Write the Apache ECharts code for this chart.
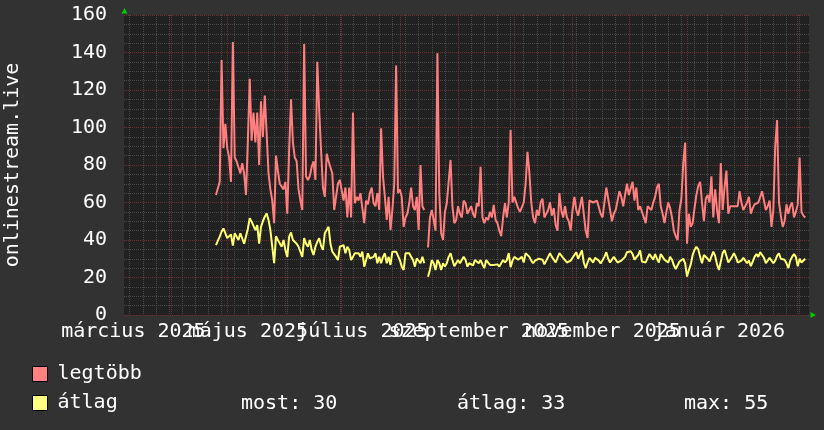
<!DOCTYPE html>
<html><head><meta charset="utf-8">
<script src="https://cdn.jsdelivr.net/npm/echarts@6/dist/echarts.min.js"></script>
<style>html,body{margin:0;padding:0;background:#323232}#c{width:824px;height:430px}</style>
</head><body><div id="c"></div>
<script>
// ---- data ----
const axisStart = '2025-03-07';
const axisEnd = '2026-03-07';
const dataStart = '2025-04-25';
const seriesNames = ['legtöbb', 'átlag'];
const yAxisTitle = 'onlinestream.live';
const xLabels = ['március 2025','május 2025','július 2025','szeptember 2025','november 2025','január 2026'];
const xLabelDates = ['2025-03-12','2025-05-12','2025-07-12','2025-09-12','2025-11-17','2026-01-18'];
const statLabels = ['most: 30', 'átlag: 33', 'max: 55'];

const maxValues = [
64,67.5,71,136,89,102,89,84,71,145.6,
84,82,81,75.5,81,75.5,64,93,126,93,
108,92,108,80,114,95,117,97,75.5,67,
61,49,85,77,70,70,67,71,54,88,
115,92,84,82,67,61,56,144.5,74,72,
74,79,82,72,135,109,88,68,63,86,
82,81,75.5,56,63,70,72,72,61,68,
52,68,52,108,59.6,63,61,65,66,49,
61,59,65,68,59.6,58,65,56,99.6,74,
63,50.7,63,45.3,56,70,133,65,67,63,
47,52,54,59.6,68,58,56,63,45.3,80,
58,56,null,36,52,56,50.7,45,139.6,65,
43.6,40,55,59.6,59.6,82.7,58,49,50.7,58,
54,52,61,59.6,54,56,58,54,52,59.6,
58,79,52,49,52,50.7,55,52,58.7,50.7,
49,45,42,52,59.6,52,60,
98.7,60,63,63,57,55,55,60,70,87,
76,60,52,49,56,53,60,62,52,51,
56,60,53,57,48,45,65,56,52,58,
52,50,45,56,63,56,53,58,63,54,
45,41,61,62,60,60,61,61,54,52,
60,68,62,56,50,54,56,61,66,63,
58,58,70,64,63,71,61,68,56,58,
59,52,49,58,59,56,60,63,68,70,
58,54,49,55,60,57,52,45,42,40,
56,62,81,92,38,54,47,49,57,64,
69,71,60,50,62,64,60,74,52,67,
56,49,81,56,68,77,54,58,58,58,
58,58,66,60,56,58,60,63,54,57,
59,59,60,63,66,67,56,58,61,47,
56,90,104,60,53,47,50,59,54,58,
60,52,55,59,84,55,53,52
];

const avgValues = [
37.3,36.4,41.8,44.4,46.2,45.3,41,40,43,37,
43.6,44.4,40,43.6,43.6,38,42,46,51.6,49.8,
50.7,45.3,48,38,47,50,52.4,54.2,50.7,45.3,
36.4,27.6,42,40,39,36.4,40,34.7,31,41.8,
44,40,40,38,36.4,35.6,31,41,38,36.4,
40,34.7,32,36.4,39,41,37,34.7,43.6,45.3,
47,38,33.8,32.9,31,29.3,36.4,37.3,37.3,32.9,
36.4,34.7,29.3,31,32.9,32,32.9,31,33.8,25.8,
29.3,32.9,30.2,29.3,31,32.9,27.6,31,27.6,31,
32.9,27.6,31,26.7,33.8,34.7,33.8,32.9,29.3,25.8,
24,32.9,33.8,32.9,31,29.3,25.8,30.2,29.3,27.6,
31,27.6,null,20.4,24,29.3,27.6,24,29.3,27.6,
24,27.6,25.8,27.6,31,32.9,29.3,26,25,29.3,
27.6,29.3,31,29.3,25.8,27.6,28.5,26.5,29.3,30.2,
27.6,29.3,27,25,29.3,28.5,26.7,27.6,26.7,25.8,
27,25.8,27.6,29.3,28,29.3,33,
25.5,29,31,32,29.5,30,31,28,33,32,
31,29,27.6,29,29.5,30,31,29.5,27,26,
31,33,31,30,28,27,33,32,30.5,29.3,
28,27.6,29,30.5,29.5,33.5,30,31,34.5,28,
25,28,30.5,30.5,28,30.5,30,29,27.5,27,
31,33.5,30,28,27.8,31,30,28,27.5,29,
30,31,33.5,34.5,34,32.5,29.5,30.5,32,34.5,
28.5,27.6,28,30.5,32.5,31,29.5,32.5,30,28,
32.5,31,29.5,28.5,28,31,29.5,26.5,24.5,26.5,
28.5,29.3,30,27.6,20.5,24,27,32,34.7,36.4,
35,31,27.6,32,31.5,30,28.5,27.6,33.8,31.5,
27,24,28.5,33,34.7,31.5,28,29.5,31,33,
31,28,28,29,30.5,30.5,27.6,29,26,28.5,
31,32.5,31,33.5,33,30.5,27.6,28.5,30.5,31,
27.6,29,31.5,32.9,30,30.5,29.5,27.6,25,29,
31,32.5,31,26,30,28,29,30
];

// ---- build category axis (days) ----
const dates = [];
for (let t = Date.parse(axisStart + 'T00:00:00Z'); t <= Date.parse(axisEnd + 'T00:00:00Z'); t += 86400000) {
  dates.push(new Date(t).toISOString().slice(0, 10));
}
const offset = dates.indexOf(dataStart);
const lead = new Array(offset).fill(null);
const maxData = lead.concat(maxValues);
const avgData = lead.concat(avgValues);

const FONT = '"DejaVu Sans Mono", monospace';
const COL_MAX = '#ff7f7f', COL_AVG = '#ffff70';
const LEG_MAX = '#ff8080', LEG_AVG = '#ffff80';
const GRID_MINOR = '#4a4a4a', GRID_MAJOR = '#6e2f2f';

const chart = echarts.init(document.getElementById('c'), null, {renderer: 'canvas'});
chart.setOption({
  backgroundColor: '#323232',
  animation: false,
  grid: {left: 124, right: 15, top: 15, bottom: 115, show: true, backgroundColor: '#212121', borderWidth: 0,
         containLabel: false, outerBoundsMode: 'none'},
  legend: {
    orient: 'vertical', left: 32, top: 364, padding: 0, itemWidth: 15, itemHeight: 15, itemGap: 9,
    icon: 'rect', selectedMode: false,
    textStyle: {color: '#ffffff', fontFamily: FONT, fontSize: 20, padding: [2, 0, 0, 5]},
    data: [
      {name: seriesNames[0], itemStyle: {color: LEG_MAX, borderColor: '#000', borderWidth: 1}},
      {name: seriesNames[1], itemStyle: {color: LEG_AVG, borderColor: '#000', borderWidth: 1}}
    ]
  },
  xAxis: [{
    type: 'category', data: dates, boundaryGap: false,
    axisLine: {show: false}, axisTick: {show: false},
    axisLabel: {show: false},
    splitLine: {show: true, interval: (i, v) => v.slice(8) === '01', lineStyle: {color: GRID_MAJOR, type: [1, 1], width: 1}},
    z: 2
  }, {
    type: 'category', data: dates, boundaryGap: false, position: 'bottom',
    axisLine: {show: false}, axisTick: {show: false}, axisLabel: {show: false},
    splitLine: {show: true, interval: (i, v) => new Date(v + 'T00:00:00Z').getUTCDay() === 1 && v.slice(8) !== '01', lineStyle: {color: GRID_MINOR, type: [1, 1], width: 1}},
    z: 1
  }],
  yAxis: {
    type: 'value', min: 0, max: 160, interval: 20,
    name: yAxisTitle, nameLocation: 'middle', nameRotate: 90, nameGap: 101,
    nameTextStyle: {color: '#ffffff', fontFamily: FONT, fontSize: 20},
    axisLine: {show: false}, axisTick: {show: false},
    axisLabel: {color: '#ffffff', fontFamily: FONT, fontSize: 20, margin: 17},
    splitLine: {show: true, lineStyle: {color: GRID_MAJOR, type: [1, 1], width: 1}},
    minorTick: {show: false, splitNumber: 4},
    minorSplitLine: {show: true, lineStyle: {color: GRID_MINOR, type: [1, 1], width: 1}}
  },
  series: [
    {name: seriesNames[0], type: 'line', data: maxData, showSymbol: false, connectNulls: false,
     lineStyle: {color: COL_MAX, width: 2}, itemStyle: {color: LEG_MAX}, z: 3},
    {name: seriesNames[1], type: 'line', data: avgData, showSymbol: false, connectNulls: false,
     lineStyle: {color: COL_AVG, width: 2}, itemStyle: {color: LEG_AVG}, z: 4}
  ]
});

// x-axis tick labels, positioned through the axis scale (overlapping like the original)
const xLabelGraphics = xLabelDates.map((d, i) => ({
  type: 'text',
  x: chart.convertToPixel({xAxisIndex: 0}, d),
  y: 322,
  style: {text: xLabels[i], fill: '#ffffff', font: '20px ' + FONT, align: 'center', verticalAlign: 'top'}
}));

chart.setOption({
  graphic: [
    {type: 'polygon', shape: {points: [[121.5, 13.5], [127.5, 13.5], [124.5, 8]]}, style: {fill: '#00cc00'}},
    {type: 'polygon', shape: {points: [[810.5, 312], [810.5, 318], [816, 315]]}, style: {fill: '#00cc00'}},
    {type: 'text', x: 241, y: 404, style: {text: statLabels[0], fill: '#ffffff', font: '20px ' + FONT, verticalAlign: 'middle'}},
    {type: 'text', x: 457, y: 404, style: {text: statLabels[1], fill: '#ffffff', font: '20px ' + FONT, verticalAlign: 'middle'}},
    {type: 'text', x: 684, y: 404, style: {text: statLabels[2], fill: '#ffffff', font: '20px ' + FONT, verticalAlign: 'middle'}}
  ].concat(xLabelGraphics)
});
</script>
</body></html>
